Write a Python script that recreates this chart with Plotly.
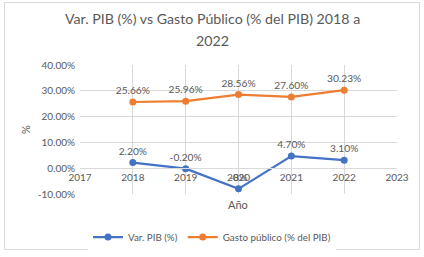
import plotly.graph_objects as go

years = [2018, 2019, 2020, 2021, 2022]
var_pib = [2.20, -0.20, -8.0, 4.70, 3.10]
var_pib_labels = ["2.20%", "-0.20%", "-8%", "4.70%", "3.10%"]
gasto = [25.66, 25.96, 28.56, 27.60, 30.23]
gasto_labels = ["25.66%", "25.96%", "28.56%", "27.60%", "30.23%"]
y_ticks = [-10, 0, 10, 20, 30, 40]
y_tick_text = ["-10.00%", "0.00%", "10.00%", "20.00%", "30.00%", "40.00%"]
x_ticks = [2017, 2018, 2019, 2020, 2021, 2022, 2023]

BLUE = "#4472C4"
ORANGE = "#ED7D31"
GRAY = "#595959"
GRID = "#D9D9D9"
FONT = "Lato, Open Sans, sans-serif"

W, H = 424, 257
L, R, T, B = 80, 27, 65, 63
PW, PH = W - L - R, H - T - B

def px_x(px):
    return (px - L) / PW

def px_y(py):
    return (H - B - py) / PH

fig = go.Figure()
fig.add_trace(go.Scatter(
    x=years, y=var_pib, name="Var. PIB (%)", mode="lines+markers+text",
    line=dict(color=BLUE, width=2.25), marker=dict(size=7, color=BLUE),
    text=var_pib_labels, textposition="top center",
    textfont=dict(size=10.2, color=GRAY, family=FONT)))
fig.add_trace(go.Scatter(
    x=years, y=gasto, name="Gasto público (% del PIB)", mode="lines+markers+text",
    line=dict(color=ORANGE, width=2.25), marker=dict(size=7, color=ORANGE),
    text=gasto_labels, textposition="top center",
    textfont=dict(size=10.2, color=GRAY, family=FONT)))

ymin, ymax = -10, 40
fig.update_layout(
    width=W, height=H,
    margin=dict(l=L, r=R, t=T, b=B, autoexpand=False),
    paper_bgcolor="white", plot_bgcolor="white",
    font=dict(family=FONT, size=10, color=GRAY),
    xaxis=dict(range=[2017, 2023], tickvals=x_ticks, ticktext=[str(v) for v in x_ticks],
               showgrid=True, gridcolor=GRID, gridwidth=1,
               showline=True, linecolor=GRID, linewidth=1,
               anchor="free", position=(0 - ymin) / (ymax - ymin),
               zeroline=False, ticks="", tickfont=dict(size=10, color=GRAY),
               automargin=False),
    yaxis=dict(range=[ymin, ymax], tickvals=y_ticks, ticktext=y_tick_text,
               showgrid=True, gridcolor=GRID, gridwidth=1, zeroline=False,
               showline=False, ticks="", tickfont=dict(size=10, color=GRAY),
               ticklabelstandoff=4, automargin=False),
    legend=dict(orientation="h", x=0.5, xref="container", xanchor="center",
                y=(H - 237) / H, yref="container", yanchor="middle",
                font=dict(size=9.8, color=GRAY), itemwidth=30),
    showlegend=True,
    annotations=[
        dict(text="Var. PIB (%) vs Gasto Público (% del PIB) 2018 a",
             xref="paper", yref="paper", x=px_x(212), y=px_y(18),
             xanchor="center", yanchor="middle", showarrow=False,
             font=dict(size=14.2, color=GRAY, family=FONT)),
        dict(text="2022",
             xref="paper", yref="paper", x=px_x(212), y=px_y(41),
             xanchor="center", yanchor="middle", showarrow=False,
             font=dict(size=14.2, color=GRAY, family=FONT)),
        dict(text="Año", xref="paper", yref="paper", x=px_x(238), y=px_y(204),
             xanchor="center", yanchor="middle", showarrow=False,
             font=dict(size=11, color=GRAY, family=FONT)),
        dict(text="%", xref="paper", yref="paper", x=px_x(25), y=px_y(130),
             xanchor="center", yanchor="middle", showarrow=False, textangle=-90,
             font=dict(size=11, color=GRAY, family=FONT)),
    ],
    shapes=[dict(type="rect", xref="paper", yref="paper",
                 x0=px_x(4.5), x1=px_x(419.5), y0=px_y(249.5), y1=px_y(2.5),
                 line=dict(color="#D9D9D9", width=1), layer="below")],
)
fig.write_html("out.html", config={"displayModeBar": False},
               post_script="document.body.style.margin='0';document.body.style.overflow='hidden';")
